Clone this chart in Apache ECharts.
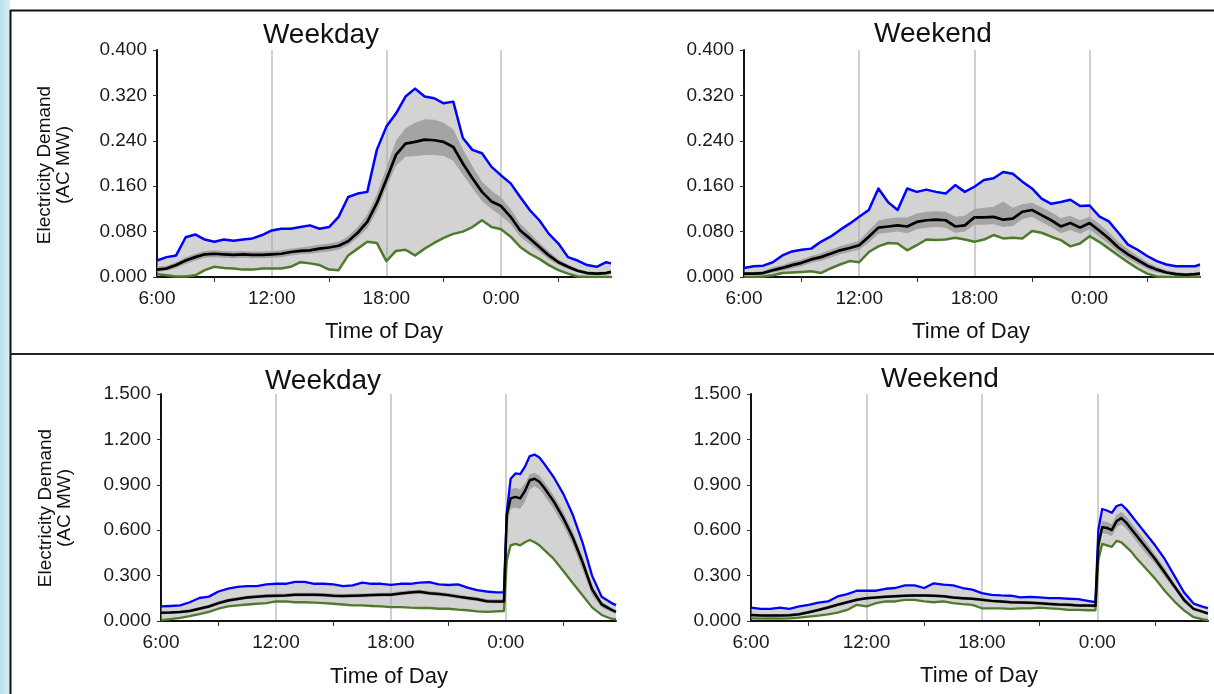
<!DOCTYPE html>
<html>
<head>
<meta charset="utf-8">
<script src="https://cdn.jsdelivr.net/npm/echarts@6/dist/echarts.min.js"></script>
<style>html,body{margin:0;padding:0;background:#fff;}#c{width:1214px;height:694px;}</style>
</head>
<body>
<div id="c"></div>
<script>
// ---------- DATA ----------
const hoursTop = [6,6.5,7,7.5,8,8.5,9,9.5,10,10.5,11,11.5,12,12.5,13,13.5,14,14.5,15,15.5,16,16.5,17,17.5,18,18.5,19,19.5,20,20.5,21,21.5,22,22.5,23,23.5,24,24.5,25,25.5,26,26.5,27,27.5,28,28.5,29,29.5,29.75];
const hoursBot = [6,6.5,7,7.5,8,8.5,9,9.5,10,10.5,11,11.5,12,12.5,13,13.5,14,14.5,15,15.5,16,16.5,17,17.5,18,18.5,19,19.5,20,20.5,21,21.5,22,22.5,23,23.5,23.9,24.05,24.25,24.5,24.75,25,25.25,25.5,25.75,26,26.5,27,27.5,28,28.5,29,29.5,29.75];

// Top-left: Weekday (0 - 0.4)
const tlMax  = [0.029,0.035,0.038,0.070,0.075,0.066,0.062,0.066,0.064,0.066,0.068,0.074,0.082,0.085,0.085,0.088,0.091,0.085,0.088,0.106,0.141,0.147,0.150,0.224,0.265,0.288,0.318,0.332,0.318,0.315,0.306,0.309,0.245,0.224,0.218,0.194,0.179,0.165,0.141,0.118,0.100,0.076,0.059,0.035,0.029,0.021,0.018,0.026,0.024];
const tlMean = [0.013,0.015,0.021,0.029,0.035,0.040,0.041,0.040,0.039,0.040,0.039,0.039,0.040,0.041,0.044,0.046,0.047,0.050,0.052,0.055,0.063,0.078,0.097,0.130,0.172,0.215,0.235,0.238,0.242,0.241,0.238,0.229,0.200,0.174,0.150,0.133,0.125,0.106,0.082,0.068,0.053,0.038,0.026,0.018,0.011,0.007,0.006,0.007,0.009];
const tlMin  = [0.005,0.003,0.001,0.001,0.003,0.012,0.018,0.016,0.015,0.013,0.013,0.015,0.015,0.015,0.018,0.026,0.024,0.021,0.013,0.012,0.038,0.050,0.062,0.060,0.028,0.046,0.048,0.038,0.050,0.060,0.069,0.076,0.080,0.088,0.100,0.088,0.084,0.071,0.053,0.041,0.032,0.021,0.012,0.006,0.001,0,0,0,0];
const tlQHi  = [0.018,0.020,0.026,0.035,0.041,0.046,0.047,0.046,0.045,0.046,0.045,0.045,0.046,0.047,0.050,0.052,0.054,0.057,0.059,0.062,0.072,0.088,0.110,0.146,0.192,0.240,0.262,0.272,0.278,0.277,0.272,0.260,0.225,0.195,0.168,0.152,0.140,0.120,0.094,0.078,0.061,0.045,0.031,0.022,0.014,0.010,0.009,0.010,0.012];
const tlQLo  = [0.009,0.011,0.016,0.023,0.029,0.034,0.035,0.034,0.033,0.034,0.033,0.033,0.034,0.035,0.038,0.040,0.041,0.043,0.045,0.048,0.056,0.069,0.086,0.116,0.158,0.196,0.212,0.213,0.215,0.215,0.213,0.205,0.180,0.157,0.134,0.120,0.108,0.093,0.071,0.058,0.045,0.031,0.021,0.014,0.008,0.004,0.003,0.004,0.006];

// Top-right: Weekend (0 - 0.4)
const trMax  = [0.016,0.019,0.020,0.026,0.038,0.045,0.048,0.050,0.062,0.071,0.083,0.094,0.106,0.118,0.156,0.132,0.118,0.156,0.150,0.154,0.150,0.147,0.162,0.150,0.159,0.171,0.174,0.185,0.182,0.168,0.156,0.138,0.129,0.132,0.136,0.125,0.126,0.107,0.098,0.078,0.057,0.048,0.037,0.028,0.022,0.019,0.019,0.019,0.022];
const trMean = [0.006,0.006,0.007,0.012,0.016,0.021,0.025,0.031,0.035,0.041,0.047,0.051,0.056,0.071,0.087,0.089,0.091,0.089,0.097,0.100,0.101,0.100,0.089,0.091,0.105,0.105,0.106,0.101,0.103,0.115,0.118,0.109,0.100,0.089,0.095,0.087,0.095,0.082,0.068,0.052,0.040,0.030,0.020,0.013,0.008,0.005,0.004,0.005,0.006];
const trMin  = [0.000,0.000,0.001,0.003,0.007,0.008,0.009,0.010,0.007,0.015,0.022,0.028,0.026,0.044,0.054,0.060,0.059,0.047,0.056,0.066,0.065,0.066,0.069,0.066,0.062,0.066,0.074,0.068,0.069,0.068,0.081,0.078,0.071,0.065,0.054,0.059,0.072,0.062,0.050,0.038,0.026,0.015,0.006,0.001,0,0,0,0,0];
const trQHi  = [0.009,0.009,0.011,0.017,0.021,0.027,0.031,0.037,0.042,0.048,0.054,0.059,0.064,0.082,0.099,0.103,0.105,0.105,0.112,0.115,0.116,0.115,0.106,0.108,0.120,0.122,0.124,0.133,0.122,0.128,0.131,0.123,0.114,0.104,0.108,0.100,0.106,0.094,0.079,0.062,0.049,0.037,0.026,0.018,0.012,0.009,0.007,0.008,0.009];
const trQLo  = [0.003,0.003,0.004,0.008,0.011,0.015,0.019,0.025,0.028,0.034,0.040,0.044,0.048,0.061,0.076,0.078,0.080,0.077,0.084,0.087,0.088,0.087,0.078,0.080,0.092,0.092,0.093,0.088,0.090,0.102,0.106,0.097,0.088,0.077,0.083,0.076,0.084,0.071,0.058,0.043,0.032,0.023,0.014,0.008,0.005,0.002,0.002,0.002,0.003];

// Bottom-left: Weekday (0 - 1.5)
const blMax  = [0.096,0.099,0.103,0.124,0.152,0.161,0.195,0.214,0.225,0.231,0.231,0.242,0.246,0.246,0.259,0.259,0.246,0.246,0.242,0.231,0.236,0.253,0.246,0.246,0.238,0.246,0.246,0.253,0.257,0.242,0.238,0.242,0.221,0.204,0.195,0.189,0.189,
                0.72,0.94,0.975,0.97,1.02,1.09,1.10,1.08,1.04,0.95,0.84,0.70,0.52,0.30,0.16,0.12,0.105];
const blMean = [0.054,0.056,0.060,0.066,0.081,0.096,0.118,0.135,0.146,0.156,0.161,0.165,0.167,0.169,0.174,0.174,0.174,0.171,0.167,0.165,0.167,0.169,0.171,0.174,0.174,0.182,0.189,0.193,0.184,0.178,0.171,0.161,0.152,0.144,0.131,0.129,0.129,
                0.70,0.81,0.82,0.81,0.86,0.93,0.94,0.92,0.88,0.79,0.68,0.55,0.39,0.21,0.11,0.075,0.06];
const blMin  = [0.006,0.013,0.021,0.032,0.045,0.060,0.081,0.096,0.103,0.109,0.114,0.118,0.129,0.129,0.124,0.124,0.122,0.118,0.114,0.109,0.103,0.103,0.099,0.096,0.092,0.092,0.088,0.086,0.086,0.081,0.081,0.075,0.071,0.064,0.060,0.064,0.066,
                0.40,0.50,0.51,0.50,0.52,0.535,0.52,0.50,0.47,0.41,0.33,0.25,0.17,0.09,0.04,0.015,0.01];
const blQHi  = [0.064,0.066,0.070,0.077,0.092,0.108,0.130,0.148,0.159,0.169,0.174,0.178,0.180,0.182,0.187,0.187,0.187,0.184,0.180,0.178,0.180,0.182,0.184,0.187,0.187,0.196,0.203,0.207,0.198,0.192,0.185,0.175,0.166,0.158,0.145,0.143,0.143,
                0.76,0.87,0.88,0.87,0.91,0.97,0.98,0.96,0.92,0.83,0.72,0.59,0.43,0.24,0.13,0.088,0.07];
const blQLo  = [0.045,0.047,0.051,0.057,0.071,0.086,0.107,0.124,0.135,0.145,0.150,0.154,0.156,0.158,0.162,0.162,0.162,0.159,0.155,0.153,0.155,0.157,0.159,0.162,0.162,0.169,0.176,0.180,0.171,0.165,0.158,0.148,0.139,0.131,0.119,0.117,0.117,
                0.62,0.74,0.75,0.74,0.79,0.87,0.89,0.87,0.83,0.74,0.63,0.50,0.34,0.17,0.09,0.06,0.048];

// Bottom-right: Weekend (0 - 1.5)
const brMax  = [0.089,0.080,0.080,0.089,0.080,0.096,0.107,0.122,0.129,0.162,0.178,0.200,0.200,0.200,0.213,0.218,0.236,0.236,0.218,0.249,0.240,0.236,0.218,0.207,0.184,0.173,0.169,0.167,0.156,0.160,0.156,0.151,0.151,0.147,0.144,0.133,0.124,
                0.60,0.74,0.73,0.715,0.76,0.77,0.74,0.70,0.66,0.58,0.50,0.41,0.30,0.19,0.115,0.093,0.085];
const brMean = [0.040,0.036,0.036,0.036,0.038,0.044,0.058,0.073,0.089,0.107,0.124,0.140,0.151,0.156,0.160,0.164,0.167,0.169,0.169,0.167,0.164,0.156,0.151,0.147,0.140,0.133,0.129,0.124,0.122,0.120,0.118,0.113,0.109,0.107,0.102,0.102,0.100,
                0.50,0.62,0.615,0.60,0.66,0.68,0.65,0.61,0.57,0.49,0.41,0.32,0.23,0.14,0.08,0.06,0.05];
const brMin  = [0.018,0.016,0.018,0.016,0.018,0.022,0.029,0.036,0.044,0.056,0.073,0.107,0.096,0.118,0.129,0.129,0.140,0.140,0.129,0.124,0.129,0.118,0.111,0.107,0.084,0.084,0.084,0.080,0.084,0.084,0.089,0.084,0.080,0.073,0.073,0.071,0.071,
                0.40,0.51,0.50,0.49,0.53,0.52,0.49,0.46,0.42,0.35,0.28,0.20,0.13,0.07,0.025,0.01,0.005];
const brQHi  = [0.050,0.046,0.046,0.046,0.048,0.054,0.068,0.083,0.099,0.117,0.134,0.150,0.161,0.166,0.170,0.174,0.177,0.179,0.179,0.177,0.174,0.166,0.161,0.157,0.150,0.143,0.139,0.134,0.132,0.130,0.128,0.123,0.119,0.117,0.112,0.112,0.110,
                0.54,0.66,0.655,0.64,0.70,0.72,0.69,0.65,0.61,0.53,0.44,0.35,0.25,0.16,0.09,0.068,0.057];
const brQLo  = [0.030,0.026,0.026,0.026,0.028,0.034,0.048,0.063,0.079,0.097,0.114,0.130,0.141,0.146,0.150,0.154,0.157,0.159,0.159,0.157,0.154,0.146,0.141,0.137,0.130,0.123,0.119,0.114,0.112,0.110,0.108,0.103,0.099,0.097,0.092,0.092,0.090,
                0.46,0.58,0.575,0.56,0.62,0.64,0.61,0.57,0.53,0.45,0.38,0.29,0.21,0.12,0.07,0.052,0.043];

const xLabelValues = [6,12,18,24];
const xTickValues = [9,15,21,27];
const yTopMax = 0.4, yTopStep = 0.08;
const yBotMax = 1.5, yBotStep = 0.3;
const titles = ['Weekday','Weekend','Weekday','Weekend'];

// ---------- CHART ----------
const FONT = 'Arial, "Liberation Sans", Helvetica, sans-serif';
const panels = [
  {grid:{left:157, top:50, width:454, height:227}, hours:hoursTop, max:tlMax, mean:tlMean, min:tlMin, qhi:tlQHi, qlo:tlQLo, yMax:yTopMax, yStep:yTopStep},
  {grid:{left:744, top:50, width:456, height:227}, hours:hoursTop, max:trMax, mean:trMean, min:trMin, qhi:trQHi, qlo:trQLo, yMax:yTopMax, yStep:yTopStep},
  {grid:{left:161, top:394, width:455, height:227}, hours:hoursBot, max:blMax, mean:blMean, min:blMin, qhi:blQHi, qlo:blQLo, yMax:yBotMax, yStep:yBotStep},
  {grid:{left:751, top:394, width:457, height:227}, hours:hoursBot, max:brMax, mean:brMean, min:brMin, qhi:brQHi, qlo:brQLo, yMax:yBotMax, yStep:yBotStep}
];

const grids = [], xAxes = [], yAxes = [], series = [];
panels.forEach((p, gi) => {
  grids.push(Object.assign({containLabel:false}, p.grid));
  xAxes.push({
    gridIndex: gi, type:'value', min:6, max:29.75, interval:3, position:'bottom',
    axisLine:{show:true, onZero:false, lineStyle:{color:'#111', width:2}},
    axisTick:{show:true, length:5, inside:false, customValues:xTickValues, lineStyle:{color:'#333', width:1}},
    axisLabel:{show:true, customValues:xLabelValues, margin:12, fontSize:19, fontFamily:FONT, color:'#1a1a1a',
      formatter: v => (Math.round(v) % 6 === 0 && v < 29) ? ((Math.round(v) % 24) + ':00') : ''},
    splitLine:{show:false}
  });
  yAxes.push({
    gridIndex: gi, type:'value', min:0, max:p.yMax, interval:p.yStep,
    axisLine:{show:true, lineStyle:{color:'#111', width:2}},
    axisTick:{show:true, length:4, lineStyle:{color:'#333'}},
    axisLabel:{fontSize:19, fontFamily:FONT, color:'#1a1a1a', margin:10, formatter: v => v.toFixed(3)},
    splitLine:{show:false}
  });
});
// secondary x axes providing the vertical gridlines at 12:00, 18:00, 0:00
panels.forEach((p, gi) => {
  xAxes.push({
    gridIndex: gi, type:'value', min:6, max:29.75, interval:6, position:'top',
    axisLine:{show:false}, axisTick:{show:false}, axisLabel:{show:false},
    splitLine:{show:true, showMinLine:false, showMaxLine:false, lineStyle:{color:'#d0d0d0', width:2}}
  });
});

function bandSeries(gi, hours, lo, hi, color, z) {
  return {
    type:'custom', xAxisIndex:gi, yAxisIndex:gi, z:z, silent:true, animation:false,
    data: hours.map((h,i) => [h, lo[i], hi[i]]),
    encode:{x:0, y:[1,2]},
    renderItem: function(params, api) {
      if (params.dataIndex !== 0) return null;
      const pts = [];
      for (let i = 0; i < hours.length; i++) pts.push(api.coord([hours[i], hi[i]]));
      for (let i = hours.length - 1; i >= 0; i--) pts.push(api.coord([hours[i], lo[i]]));
      return {type:'polygon', shape:{points:pts}, style:{fill:color, stroke:null}};
    }
  };
}
function lineSeries(gi, hours, vals, color, width, z) {
  return {
    type:'line', xAxisIndex:gi, yAxisIndex:gi, z:z, silent:true, animation:false,
    symbol:'none', showSymbol:false,
    data: hours.map((h,i) => [h, vals[i]]),
    lineStyle:{color:color, width:width, join:'round'}
  };
}
panels.forEach((p, gi) => {
  const lw = gi < 2 ? 2.5 : 2.3;
  series.push(bandSeries(gi, p.hours, p.min, p.max, 'rgba(170,170,170,0.52)', 2));
  series.push(bandSeries(gi, p.hours, p.qlo, p.qhi, '#a4a4a4', 3));
  series.push(lineSeries(gi, p.hours, p.max, '#0000ff', lw, 5));
  series.push(lineSeries(gi, p.hours, p.min, '#4f7a2c', lw, 6));
  series.push(lineSeries(gi, p.hours, p.mean, '#000000', lw + 0.2, 7));
});

const txt = (text, x, y, size, lh, extra) => Object.assign({
  type:'text', x:x, y:y, silent:true,
  style:{text:text, x:0, y:0, font: size + 'px ' + FONT, fill:'#111', align:'center', verticalAlign:'middle', lineHeight: lh}
}, extra || {});

const graphics = [
  {type:'rect', shape:{x:0, y:0, width:10, height:694}, silent:true,
   style:{fill:new echarts.graphic.LinearGradient(0,0,1,0,[{offset:0,color:'#b9deeb'},{offset:1,color:'#d9eef5'}])}},
  {type:'line', shape:{x1:10.5, y1:10, x2:10.5, y2:694}, silent:true, style:{stroke:'#111', lineWidth:2}},
  {type:'line', shape:{x1:10, y1:10.5, x2:1214, y2:10.5}, silent:true, style:{stroke:'#111', lineWidth:2}},
  {type:'line', shape:{x1:10, y1:354, x2:1214, y2:354}, silent:true, style:{stroke:'#222', lineWidth:2}},
  txt(titles[0], 321, 35, 28, 30),
  txt(titles[1], 933, 34, 28, 30),
  txt(titles[2], 323, 381, 28, 30),
  txt(titles[3], 940, 379, 28, 30),
  txt('Time of Day', 384, 332, 22, 24),
  txt('Time of Day', 971, 332, 22, 24),
  txt('Time of Day', 389, 677, 22, 24),
  txt('Time of Day', 979, 676, 22, 24),
  txt('Electricity Demand\n(AC MW)', 54, 165, 19, 19, {rotation: Math.PI/2}),
  txt('Electricity Demand\n(AC MW)', 55, 508, 19, 19, {rotation: Math.PI/2})
];

const chart = echarts.init(document.getElementById('c'), null, {renderer:'canvas'});
chart.setOption({
  backgroundColor:'#ffffff',
  animation:false,
  grid:grids, xAxis:xAxes, yAxis:yAxes, series:series,
  graphic:{elements:graphics}
});
</script>
</body>
</html>
